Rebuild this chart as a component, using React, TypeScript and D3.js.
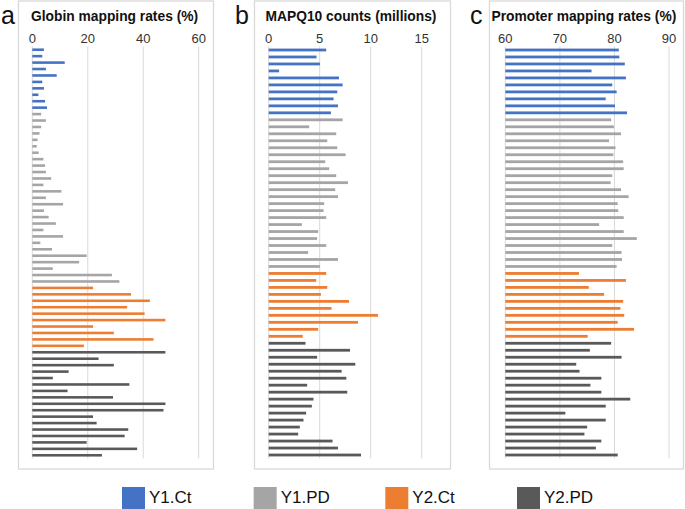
import React from "react";
import * as d3 from "d3";

const seriesNames = ["Y1.Ct", "Y1.PD", "Y2.Ct", "Y2.PD"];
const seriesColors = ["#4472C4", "#A5A5A5", "#ED7D31", "#595959"];

const globinY1Ct = [4.2, 3.6, 11.7, 4.9, 8.8, 3.6, 4.2, 2.2, 4.6, 5.3];
const globinY1PD = [3.2, 4.9, 3.2, 2.6, 1.9, 1.6, 2.3, 4.0, 4.6, 4.9, 6.8, 4.0, 10.5, 4.9, 11.1, 4.2, 5.9, 8.5, 4.0, 11.1, 2.9, 7.1, 19.6, 16.9, 7.4, 28.7, 31.4];
const globinY2Ct = [21.9, 35.6, 42.4, 34.2, 40.5, 48.0, 21.9, 29.4, 43.7, 18.6];
const globinY2PD = [48.0, 23.9, 29.4, 13.1, 7.4, 35.0, 12.7, 29.1, 48.0, 47.3, 21.9, 23.2, 34.6, 33.3, 19.6, 37.8, 25.1];

const mapqY1Ct = [5.64, 4.69, 5.02, 1.02, 6.89, 7.25, 6.72, 6.36, 6.79, 6.1];
const mapqY1PD = [7.25, 3.97, 6.62, 5.74, 6.72, 7.54, 5.54, 5.93, 6.62, 7.77, 6.52, 6.79, 5.44, 5.38, 5.64, 3.25, 4.85, 4.75, 5.64, 3.87, 6.79, 5.02];
const mapqY2Ct = [5.64, 4.66, 5.74, 5.11, 7.87, 6.16, 10.72, 8.75, 4.85, 3.34];
const mapqY2PD = [3.61, 7.97, 4.75, 8.49, 7.15, 7.61, 3.77, 7.7, 4.39, 4.23, 3.67, 3.41, 3.05, 2.89, 6.26, 6.79, 9.05];

const promY1Ct = [80.8, 80.9, 81.9, 75.8, 82.1, 79.6, 80.4, 78.4, 80.1, 82.3];
const promY1PD = [79.4, 79.9, 81.2, 79.0, 80.2, 79.8, 81.6, 81.7, 79.6, 79.3, 81.2, 82.6, 80.6, 80.7, 81.7, 77.2, 81.7, 84.1, 79.6, 81.3, 81.4, 80.4];
const promY2Ct = [73.5, 82.1, 75.3, 78.1, 81.6, 81.1, 81.8, 80.6, 83.6, 75.1];
const promY2PD = [79.4, 75.5, 81.3, 73.0, 73.6, 77.6, 75.6, 77.6, 82.9, 78.4, 71.0, 78.4, 75.0, 74.5, 77.6, 76.6, 80.6];

const globinTicks = [0, 20, 40, 60];
const mapqTicks = [0, 5, 10, 15];
const promTicks = [60, 70, 80, 90];

const panels = [
  {
    letter: "a",
    title: "Globin mapping rates (%)",
    series: [globinY1Ct, globinY1PD, globinY2Ct, globinY2PD],
    ticks: globinTicks,
    frame: [18.5, 213.5],
    xr: [32.3, 198.7],
    letterX: 1,
    titleX: 31,
  },
  {
    letter: "b",
    title: "MAPQ10 counts (millions)",
    series: [mapqY1Ct, mapqY1PD, mapqY2Ct, mapqY2PD],
    ticks: mapqTicks,
    frame: [254.5, 450.5],
    xr: [268.7, 421.7],
    letterX: 235,
    titleX: 265.5,
  },
  {
    letter: "c",
    title: "Promoter mapping rates (%)",
    series: [promY1Ct, promY1PD, promY2Ct, promY2PD],
    ticks: promTicks,
    frame: [489.5, 683.5],
    xr: [505.3, 669],
    letterX: 470,
    titleX: 491.5,
  },
];

const FONT = "'Liberation Sans', Arial, Helvetica, sans-serif";

function Panel({ p }: { p: any }) {
  const rows: { v: number; s: number }[] = [];
  p.series.forEach((arr: number[], si: number) => arr.forEach((v) => rows.push({ v, s: si })));
  const x = d3.scaleLinear().domain([p.ticks[0], p.ticks[p.ticks.length - 1]]).range(p.xr);
  const y = d3
    .scaleBand<number>()
    .domain(d3.range(rows.length))
    .range([46.5, 458.5])
    .paddingInner(0.6)
    .paddingOuter(0.3);
  const base = p.ticks[0];
  return (
    <g>
      <rect x={p.frame[0]} y={1} width={p.frame[1] - p.frame[0]} height={468} fill="#fff" stroke="#d9d9d9" strokeWidth={1.3} />
      <text x={p.letterX} y={24} fontSize={25} fontFamily={FONT} fill="#111">{p.letter}</text>
      <text x={p.titleX} y={21} fontSize={13.8} fontWeight="bold" fontFamily={FONT} fill="#111" textLength={p.title.length ? undefined : undefined}>{p.title}</text>
      {p.ticks.map((t: number) => (
        <g key={t}>
          <line x1={x(t)} x2={x(t)} y1={46.5} y2={458.5} stroke="#d9d9d9" strokeWidth={1} />
          <text x={x(t)} y={42.5} fontSize={13} textAnchor="middle" fontFamily={FONT} fill="#333">{t}</text>
        </g>
      ))}
      {rows.map((r, i) => (
        <rect
          key={i}
          x={x(base)}
          y={y(i)}
          width={Math.max(0, x(r.v) - x(base))}
          height={y.bandwidth()}
          fill={seriesColors[r.s]}
        />
      ))}
    </g>
  );
}

export default function App() {
  const legendX = d3.scalePoint<string>().domain(seriesNames).range([122, 517]);
  return (
    <div style={{ position: "absolute", left: 0, top: 0 }}>
      <svg width={685} height={509} style={{ display: "block", background: "#fff" }}>
        {panels.map((p) => (
          <Panel key={p.letter} p={p} />
        ))}
        {seriesNames.map((n, i) => (
          <g key={n}>
            <rect x={legendX(n)} y={487} width={23} height={22} fill={seriesColors[i]} />
            <text x={(legendX(n) as number) + 27} y={503} fontSize={17} fontFamily={FONT} fill="#111">{n}</text>
          </g>
        ))}
      </svg>
    </div>
  );
}
